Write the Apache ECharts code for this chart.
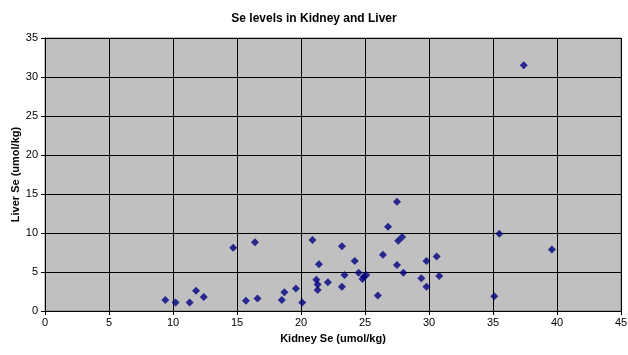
<!DOCTYPE html>
<html>
<head>
<meta charset="utf-8">
<script src="https://cdn.jsdelivr.net/npm/echarts@6/dist/echarts.min.js"></script>
<style>
html,body{margin:0;padding:0;background:#fff;}
#chart{width:628px;height:355px;}
</style>
</head>
<body>
<div id="chart"></div>
<script>
var kidney = [9.4,10.2,11.3,11.8,12.4,14.7,15.7,16.4,16.6,18.5,18.7,19.6,20.1,20.9,21.4,21.2,21.3,21.3,22.1,23.2,23.2,23.4,24.2,24.5,24.8,24.9,25.1,26.0,26.4,26.8,27.5,27.5,27.6,27.9,28.0,29.4,29.8,29.8,30.6,30.8,35.1,35.5,37.4,39.6];
var liver  = [1.4,1.1,1.1,2.6,1.8,8.1,1.3,8.8,1.6,1.4,2.4,2.9,1.1,9.1,6.0,4.0,3.4,2.7,3.7,8.3,3.1,4.6,6.4,4.9,4.1,4.4,4.6,2.0,7.2,10.8,14.0,5.9,9.0,9.5,4.9,4.2,6.4,3.1,7.0,4.5,1.9,9.9,31.5,7.9];
var title = 'Se levels in Kidney and Liver';
var xName = 'Kidney Se (umol/kg)';
var yName = 'Liver Se (umol/kg)';

var points = kidney.map(function(k,i){return [k, liver[i]];});
var chart = echarts.init(document.getElementById('chart'));
var font = 'Liberation Sans, Arial, sans-serif';
chart.setOption({
  animation:false,
  backgroundColor:'#ffffff',
  title:{text:title,left:'center',top:8,textStyle:{fontFamily:font,fontSize:12,fontWeight:'bold',color:'#000'}},
  grid:{left:45,right:7,top:38,bottom:44,show:true,backgroundColor:'#c0c0c0',borderColor:'#808080',borderWidth:1,outerBoundsMode:'none',containLabel:false},
  xAxis:{type:'value',min:0,max:45,interval:5,
    name:xName,nameLocation:'middle',nameGap:22,nameMoveOverlap:false,
    nameTextStyle:{fontFamily:font,fontSize:11,fontWeight:'bold',color:'#000'},
    axisLine:{show:true,onZero:false,lineStyle:{color:'#000',width:1}},
    axisTick:{show:true,length:4,lineStyle:{color:'#000'}},
    axisLabel:{fontFamily:font,fontSize:11,color:'#000',margin:6},
    splitLine:{show:true,lineStyle:{color:'#000',width:1}}},
  yAxis:{type:'value',min:0,max:35,interval:5,
    name:yName,nameLocation:'middle',nameGap:24,nameMoveOverlap:false,
    nameTextStyle:{fontFamily:font,fontSize:11,fontWeight:'bold',color:'#000'},
    axisLine:{show:true,onZero:false,lineStyle:{color:'#000',width:1}},
    axisTick:{show:true,length:4,lineStyle:{color:'#000'}},
    axisLabel:{fontFamily:font,fontSize:11,color:'#000',margin:7},
    splitLine:{show:true,lineStyle:{color:'#000',width:1}}},
  series:[{type:'scatter',data:points,symbol:'diamond',symbolSize:8,
    itemStyle:{color:'#000080'}}]
});
</script>
</body>
</html>
